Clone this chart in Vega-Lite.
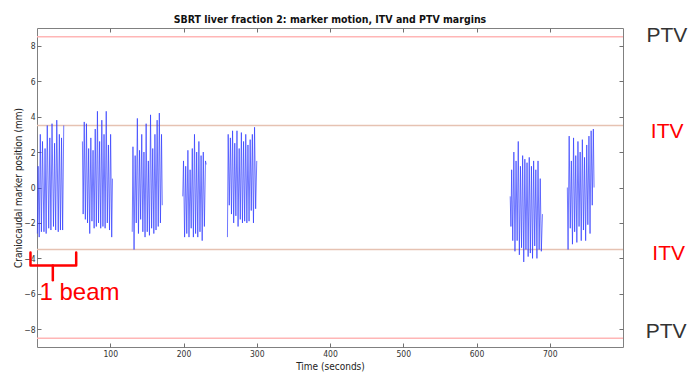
{
  "$schema": "https://vega.github.io/schema/vega-lite/v6.json",
  "width": 586,
  "height": 319,
  "autosize": {"type": "none"},
  "padding": {"left": 37, "top": 28, "right": 77, "bottom": 37},
  "background": "white",
  "config": {
    "view": {"stroke": "#808080", "strokeWidth": 1},
    "font": "Liberation Sans Narrow, DejaVu Sans Condensed, sans-serif",
    "axis": {
      "grid": false,
      "domain": false,
      "tickColor": "#707070",
      "tickSize": -4,
      "labelColor": "#333333",
      "labelFontSize": 8.5,
      "labelFont": "Liberation Sans Narrow, DejaVu Sans Condensed, sans-serif",
      "titleFont": "Liberation Sans Narrow, DejaVu Sans Condensed, sans-serif",
      "titleFontSize": 10,
      "titleFontWeight": "normal",
      "titleColor": "#222222"
    }
  },
  "title": {
    "text": "SBRT liver fraction 2: marker motion, ITV and PTV margins",
    "font": "Liberation Sans Narrow, DejaVu Sans Condensed, sans-serif",
    "fontSize": 10.5,
    "fontWeight": "bold",
    "color": "#111111",
    "offset": 0,
    "anchor": "middle"
  },
  "datasets": {
    "motion": [
      {"s":1,"t":0.5,"y":-2.6},{"s":1,"t":1.5,"y":1.2},{"s":1,"t":3.0,"y":-2.8},{"s":1,"t":4.5,"y":3.0},{"s":1,"t":6.0,"y":-2.5},{"s":1,"t":7.5,"y":2.6},{"s":1,"t":9.5,"y":-2.5},{"s":1,"t":11,"y":2.2},{"s":1,"t":12.5,"y":-2.6},{"s":1,"t":14,"y":3.5},{"s":1,"t":16,"y":-2.3},{"s":1,"t":17.5,"y":2.8},{"s":1,"t":19,"y":-2.4},{"s":1,"t":20.5,"y":3.6},{"s":1,"t":22.5,"y":-2.2},{"s":1,"t":24,"y":2.5},{"s":1,"t":25.5,"y":-2.4},{"s":1,"t":27,"y":3.8},{"s":1,"t":29,"y":-2.5},{"s":1,"t":30.5,"y":3.0},{"s":1,"t":32,"y":-2.4},{"s":1,"t":33.5,"y":2.8},{"s":1,"t":35,"y":-2.4},{"s":1,"t":36.5,"y":3.5},
      {"s":2,"t":62,"y":2.6},{"s":2,"t":63,"y":-1.5},{"s":2,"t":64.5,"y":3.7},{"s":2,"t":66,"y":-1.8},{"s":2,"t":67.5,"y":3.6},{"s":2,"t":69,"y":-2.0},{"s":2,"t":70.5,"y":2.2},{"s":2,"t":72,"y":-2.6},{"s":2,"t":73.5,"y":2.8},{"s":2,"t":75,"y":-1.9},{"s":2,"t":76.5,"y":2.1},{"s":2,"t":78,"y":-2.3},{"s":2,"t":79.5,"y":3.3},{"s":2,"t":81,"y":-2.2},{"s":2,"t":82.5,"y":4.3},{"s":2,"t":84,"y":-2.0},{"s":2,"t":85.5,"y":2.6},{"s":2,"t":87,"y":-2.3},{"s":2,"t":88.5,"y":3.8},{"s":2,"t":90,"y":-2.2},{"s":2,"t":91.5,"y":3.0},{"s":2,"t":93,"y":-2.3},{"s":2,"t":94.5,"y":4.3},{"s":2,"t":96,"y":-2.0},{"s":2,"t":97.5,"y":2.4},{"s":2,"t":99,"y":-2.4},{"s":2,"t":100.5,"y":3.0},{"s":2,"t":102,"y":-2.8},{"s":2,"t":103,"y":0.5},
      {"s":3,"t":130,"y":-2.5},{"s":3,"t":131,"y":2.3},{"s":3,"t":132.5,"y":-3.5},{"s":3,"t":134,"y":1.8},{"s":3,"t":135.5,"y":-2.0},{"s":3,"t":137,"y":3.9},{"s":3,"t":138.5,"y":-2.6},{"s":3,"t":140,"y":2.1},{"s":3,"t":141.5,"y":-1.8},{"s":3,"t":143,"y":3.0},{"s":3,"t":144.5,"y":-2.5},{"s":3,"t":146,"y":2.0},{"s":3,"t":147.5,"y":-2.8},{"s":3,"t":149,"y":3.6},{"s":3,"t":150.5,"y":-2.5},{"s":3,"t":152,"y":1.5},{"s":3,"t":153.5,"y":-2.7},{"s":3,"t":155,"y":4.1},{"s":3,"t":156.5,"y":-2.3},{"s":3,"t":158,"y":2.2},{"s":3,"t":159.5,"y":-2.6},{"s":3,"t":161,"y":3.0},{"s":3,"t":162.5,"y":-2.4},{"s":3,"t":164,"y":3.8},{"s":3,"t":165.5,"y":-2.2},{"s":3,"t":167,"y":4.2},{"s":3,"t":168.5,"y":-2.0},{"s":3,"t":170,"y":3.0},{"s":3,"t":171,"y":-1.0},
      {"s":4,"t":199,"y":-0.5},{"s":4,"t":200,"y":1.5},{"s":4,"t":201.5,"y":-2.8},{"s":4,"t":203,"y":1.2},{"s":4,"t":204.5,"y":-2.6},{"s":4,"t":206,"y":2.1},{"s":4,"t":207.5,"y":-2.8},{"s":4,"t":209,"y":1.0},{"s":4,"t":210.5,"y":-2.3},{"s":4,"t":212,"y":2.2},{"s":4,"t":213.5,"y":-2.8},{"s":4,"t":215,"y":3.0},{"s":4,"t":216.5,"y":-2.6},{"s":4,"t":218,"y":2.0},{"s":4,"t":219.5,"y":-2.8},{"s":4,"t":221,"y":2.6},{"s":4,"t":222.5,"y":-2.5},{"s":4,"t":224,"y":1.8},{"s":4,"t":225.5,"y":-3.0},{"s":4,"t":227,"y":2.0},{"s":4,"t":228.5,"y":-2.2},{"s":4,"t":230,"y":1.5},{"s":4,"t":231,"y":1.3},
      {"s":5,"t":260,"y":-2.8},{"s":5,"t":261,"y":3.0},{"s":5,"t":262.5,"y":-1.0},{"s":5,"t":264,"y":2.8},{"s":5,"t":265.5,"y":-1.5},{"s":5,"t":267,"y":3.2},{"s":5,"t":268.5,"y":-2.0},{"s":5,"t":270,"y":2.5},{"s":5,"t":271.5,"y":-1.6},{"s":5,"t":273,"y":3.2},{"s":5,"t":274.5,"y":-2.2},{"s":5,"t":276,"y":2.2},{"s":5,"t":277.5,"y":-1.8},{"s":5,"t":279,"y":3.1},{"s":5,"t":280.5,"y":-2.0},{"s":5,"t":282,"y":2.6},{"s":5,"t":283.5,"y":-1.9},{"s":5,"t":285,"y":3.0},{"s":5,"t":286.5,"y":-2.0},{"s":5,"t":288,"y":2.4},{"s":5,"t":289.5,"y":-1.9},{"s":5,"t":291,"y":2.7},{"s":5,"t":292.5,"y":-1.3},{"s":5,"t":294,"y":3.0},{"s":5,"t":295.5,"y":-2.0},{"s":5,"t":297,"y":3.4},{"s":5,"t":298.5,"y":-1.2},{"s":5,"t":300,"y":1.5},
      {"s":6,"t":646,"y":-0.5},{"s":6,"t":647,"y":-2.2},{"s":6,"t":648,"y":1.0},{"s":6,"t":649.5,"y":-3.0},{"s":6,"t":651,"y":2.0},{"s":6,"t":652.5,"y":-3.6},{"s":6,"t":654,"y":1.5},{"s":6,"t":655.5,"y":-3.0},{"s":6,"t":657,"y":2.6},{"s":6,"t":658.5,"y":-3.8},{"s":6,"t":660,"y":1.2},{"s":6,"t":661.5,"y":-3.4},{"s":6,"t":663,"y":1.8},{"s":6,"t":664.5,"y":-4.2},{"s":6,"t":666,"y":1.6},{"s":6,"t":667.5,"y":-3.5},{"s":6,"t":669,"y":1.4},{"s":6,"t":670.5,"y":-3.9},{"s":6,"t":672,"y":1.7},{"s":6,"t":673.5,"y":-3.7},{"s":6,"t":675,"y":1.2},{"s":6,"t":676.5,"y":-4.0},{"s":6,"t":678,"y":1.5},{"s":6,"t":679.5,"y":-3.3},{"s":6,"t":681,"y":1.0},{"s":6,"t":682.5,"y":-4.0},{"s":6,"t":684,"y":1.5},{"s":6,"t":685.5,"y":-3.5},{"s":6,"t":687,"y":0.5},{"s":6,"t":688.5,"y":-3.6},{"s":6,"t":690,"y":-1.5},
      {"s":7,"t":724,"y":0.0},{"s":7,"t":725,"y":-3.5},{"s":7,"t":726.5,"y":2.9},{"s":7,"t":728,"y":-2.3},{"s":7,"t":729.5,"y":1.5},{"s":7,"t":731,"y":-3.2},{"s":7,"t":732.5,"y":2.8},{"s":7,"t":734,"y":-2.5},{"s":7,"t":735.5,"y":1.8},{"s":7,"t":737,"y":-3.1},{"s":7,"t":738.5,"y":2.6},{"s":7,"t":740,"y":-2.2},{"s":7,"t":741.5,"y":2.0},{"s":7,"t":743,"y":-3.0},{"s":7,"t":744.5,"y":2.7},{"s":7,"t":746,"y":-2.4},{"s":7,"t":747.5,"y":1.7},{"s":7,"t":749,"y":-3.0},{"s":7,"t":750.5,"y":2.4},{"s":7,"t":752,"y":-2.1},{"s":7,"t":753.5,"y":2.9},{"s":7,"t":755,"y":-2.6},{"s":7,"t":756.5,"y":3.2},{"s":7,"t":758,"y":-1.0},{"s":7,"t":759.5,"y":3.3},{"s":7,"t":760.5,"y":0.0}
    ],
    "refs": [
      {"kind":"PTV","y":8.5},{"kind":"PTV","y":-8.5},{"kind":"ITV","y":3.5},{"kind":"ITV","y":-3.5}
    ],
    "brace": [
      {"part":"a","o":1,"t":-8.9,"y":-3.67},{"part":"a","o":2,"t":-8.9,"y":-4.4},{"part":"a","o":3,"t":53.5,"y":-4.4},{"part":"a","o":4,"t":53.5,"y":-3.67},
      {"part":"b","o":1,"t":21.6,"y":-4.4},{"part":"b","o":2,"t":21.6,"y":-5.23}
    ],
    "ptvLabels": [
      {"text":"PTV","t":832,"y":8.19},
      {"text":"PTV","t":831,"y":-8.47}
    ],
    "itvLabels": [
      {"text":"ITV","t":838,"y":2.82},
      {"text":"ITV","t":840,"y":-4.07}
    ],
    "beamLabel": [
      {"text":"1 beam","t":3.4,"y":-6.33}
    ]
  },
  "resolve": {"axis": {"x": "independent", "y": "independent"}},
  "layer": [
    {
      "data": {"name": "refs"},
      "mark": {"type": "rule", "strokeWidth": 1.5},
      "encoding": {
        "y": {"field": "y", "type": "quantitative", "scale": {"domain": [-9, 9], "nice": false}, "axis": null},
        "color": {"field": "kind", "type": "nominal", "scale": {"domain": ["PTV", "ITV"], "range": ["#ffb6b6", "#e6c2b2"]}, "legend": null}
      }
    },
    {
      "data": {"name": "motion"},
      "mark": {"type": "line", "color": "#2a35ff", "strokeWidth": 0.9, "opacity": 0.75},
      "encoding": {
        "x": {"field": "t", "type": "quantitative", "scale": {"domain": [0, 800], "nice": false},
              "axis": {"orient": "bottom", "values": [100, 200, 300, 400, 500, 600, 700], "title": "Time (seconds)", "labelPadding": 6, "titlePadding": 4}},
        "y": {"field": "y", "type": "quantitative", "scale": {"domain": [-9, 9], "nice": false},
              "axis": {"orient": "left", "values": [-8, -6, -4, -2, 0, 2, 4, 6, 8], "title": "Craniocaudal marker position (mm)", "labelPadding": 6, "titlePadding": 0}},
        "detail": {"field": "s", "type": "nominal"}
      }
    },
    {
      "data": {"name": "refs"},
      "mark": {"type": "point", "opacity": 0},
      "encoding": {
        "x": {"datum": 0, "type": "quantitative", "axis": {"orient": "top", "values": [100, 200, 300, 400, 500, 600, 700], "labels": false, "title": null}},
        "y": {"field": "y", "type": "quantitative", "axis": {"orient": "right", "values": [-8, -6, -4, -2, 0, 2, 4, 6, 8], "labels": false, "title": null}}
      }
    },
    {
      "data": {"name": "brace"},
      "mark": {"type": "line", "color": "#ff0000", "strokeWidth": 2.5, "strokeJoin": "round", "strokeCap": "round", "clip": false},
      "encoding": {
        "x": {"field": "t", "type": "quantitative", "axis": null},
        "y": {"field": "y", "type": "quantitative", "axis": null},
        "detail": {"field": "part", "type": "nominal"},
        "order": {"field": "o", "type": "quantitative"}
      }
    },
    {
      "data": {"name": "ptvLabels"},
      "mark": {"type": "text", "align": "left", "baseline": "alphabetic", "font": "Liberation Sans, Arial, sans-serif", "fontSize": 21, "color": "#333333", "clip": false},
      "encoding": {
        "x": {"field": "t", "type": "quantitative", "axis": null},
        "y": {"field": "y", "type": "quantitative", "axis": null},
        "text": {"field": "text"}
      }
    },
    {
      "data": {"name": "itvLabels"},
      "mark": {"type": "text", "align": "left", "baseline": "alphabetic", "font": "Liberation Sans, Arial, sans-serif", "fontSize": 21, "color": "#ff0000", "clip": false},
      "encoding": {
        "x": {"field": "t", "type": "quantitative", "axis": null},
        "y": {"field": "y", "type": "quantitative", "axis": null},
        "text": {"field": "text"}
      }
    },
    {
      "data": {"name": "beamLabel"},
      "mark": {"type": "text", "align": "left", "baseline": "alphabetic", "font": "Liberation Sans, Arial, sans-serif", "fontSize": 24, "color": "#ff0000", "clip": false},
      "encoding": {
        "x": {"field": "t", "type": "quantitative", "axis": null},
        "y": {"field": "y", "type": "quantitative", "axis": null},
        "text": {"field": "text"}
      }
    }
  ]
}
